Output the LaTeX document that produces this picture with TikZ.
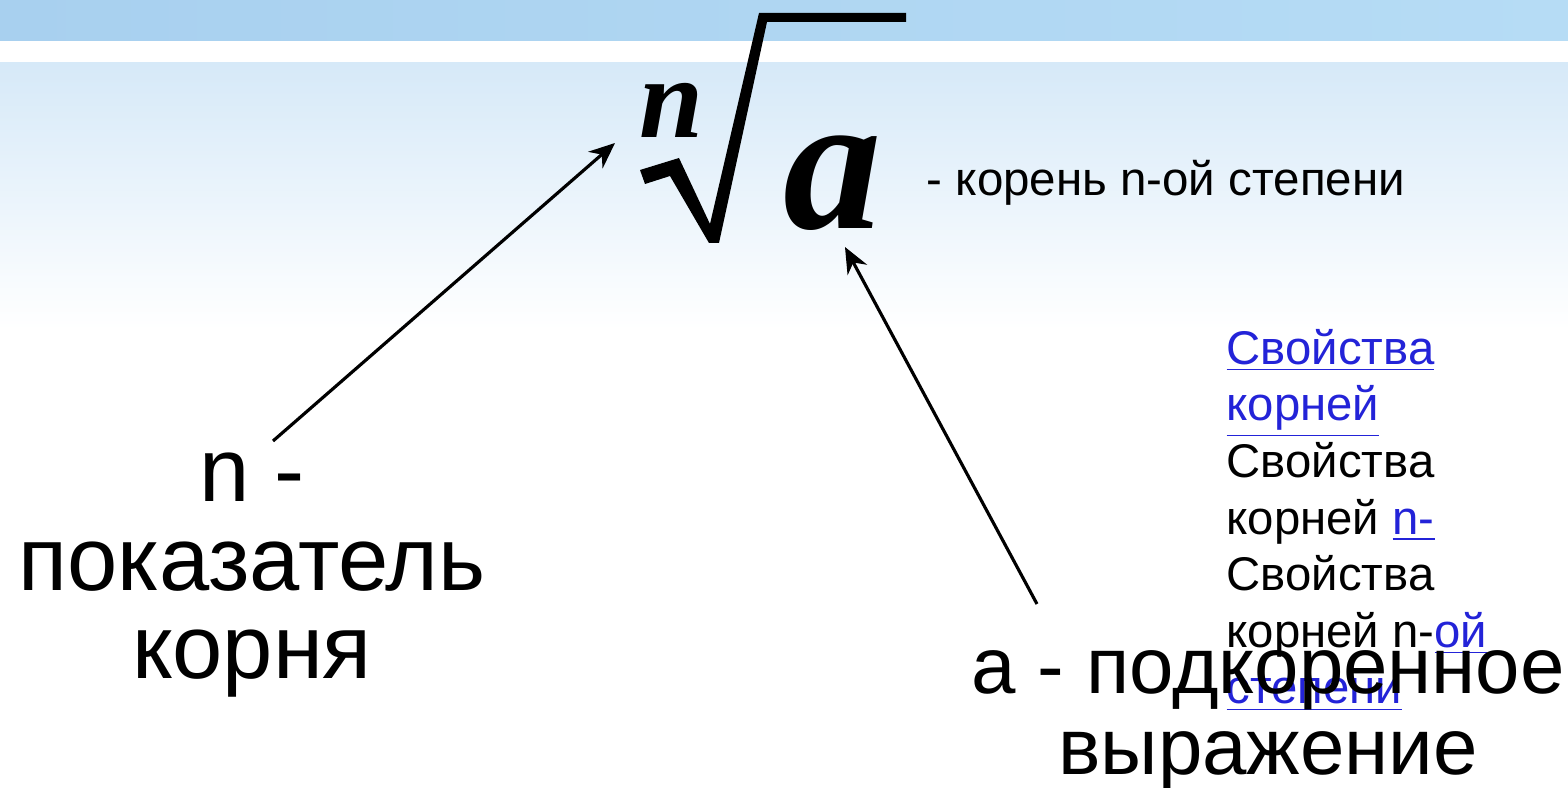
\documentclass[tikz,border=0pt]{standalone}
\usepackage{fontspec}
\setmainfont{Liberation Sans}
\newfontfamily\rootfont{Liberation Serif}
\usepackage{xcolor}
\usetikzlibrary{arrows.meta,calc}
\definecolor{bandblue}{HTML}{A8D0EF}
\definecolor{bandblue2}{HTML}{B6DCF5}
\definecolor{skyfade}{HTML}{D6E9F8}
\definecolor{linkblue}{HTML}{2323D8}
\tikzset{
  biglbl/.style  = {align=center, inner sep=0pt},
  captxt/.style  = {inner sep=0pt, font=\fontsize{13.5}{15}\selectfont},
  links/.style   = {align=left, inner sep=0pt,
                    font=\fontsize{13.45}{16.1}\selectfont},
  sym/.style     = {inner sep=0pt, text=black},
  ar/.style      = {-{Stealth[length=2.6mm,width=2.2mm]}, line width=0.9pt},
}
\newcommand{\lnk}[1]{\textcolor{linkblue}{\underline{#1}}}

\begin{document}
\begin{tikzpicture}[x=0.01cm,y=-0.01cm]
  \useasboundingbox (0,0) rectangle (1568,788);
  % --- background ---
  \fill[white] (0,0) rectangle (1568,788);
  \shade[left color=bandblue, right color=bandblue2] (0,0) rectangle (1568,41);
  \shade[top color=skyfade, bottom color=white] (0,63) rectangle (1568,330);

  % --- the root sign ---
  \fill[black] (640,170) -- (679,158) -- (710,224) -- (759,13) -- (906,13)
     -- (906,22) -- (767,22) -- (719,243) -- (709,243) -- (670,176)
     -- (645,184) -- cycle;
  \node[sym, anchor=base west, font=\rootfont\bfseries\itshape\fontsize{32.7}{34}\selectfont]
       (idx) at (639,138) {n};
  \node[sym, anchor=base west, font=\rootfont\bfseries\itshape\fontsize{56}{60}\selectfont]
       (rad) at (783,229) {a};
  \node[captxt, anchor=base west] (title) at (926,196) {- корень n-ой степени};

  % --- links on the right ---
  \node[links, anchor=base west] (lnks) at (1226,704)
       {\lnk{Свойства}\\ \lnk{корней}\\ Свойства\\ корней \lnk{n-}\\
        Свойства\\ корней n-\lnk{ой}\\ \lnk{степени}};

  % --- labels (base = last line) ---
  \node[biglbl, anchor=base, font=\fontsize{25.7}{25.2}\selectfont]
       (nlbl) at (252,679) {n -\\показатель\\корня};
  \node[biglbl, anchor=base, font=\fontsize{22.7}{23.3}\selectfont]
       (albl) at (1268,775) {а - подкоренное\\выражение};

  \coordinate (ntail) at (273,441);
  \coordinate (ntip)  at (615,143);
  \coordinate (atail) at (1037,604);
  \coordinate (atip)  at (845,247);
  \draw[ar] (ntail) -- (ntip);
  \draw[ar] (atail) -- (atip);
\end{tikzpicture}
\end{document}
